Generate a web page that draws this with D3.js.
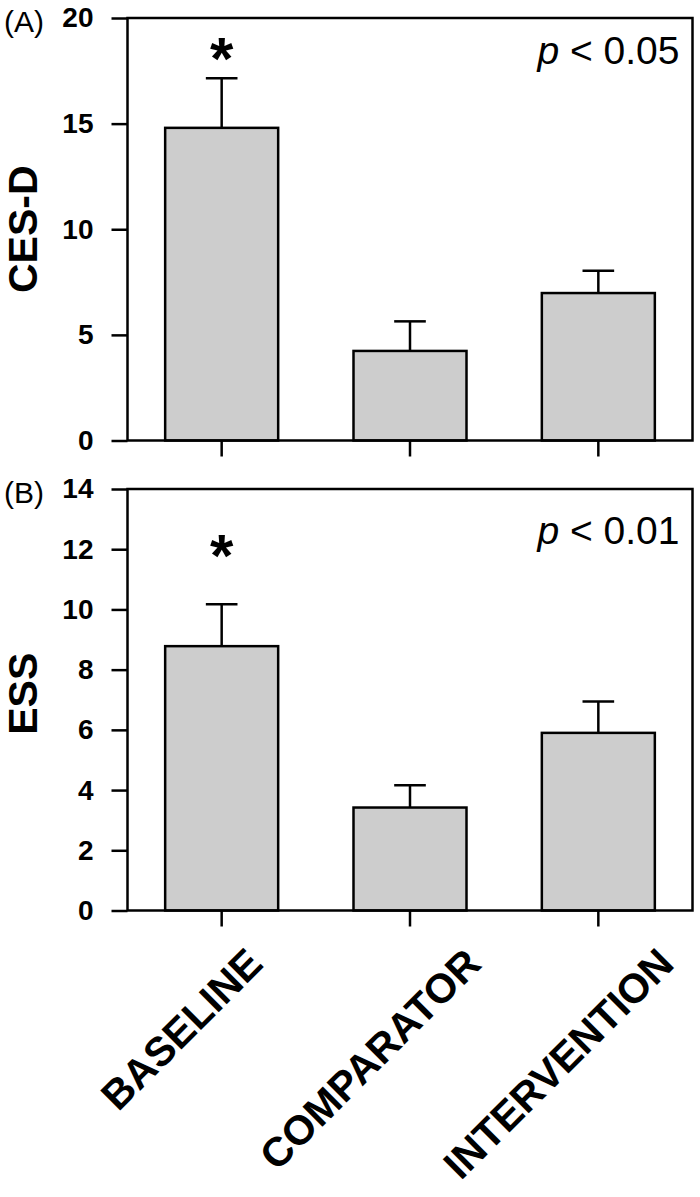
<!DOCTYPE html>
<html>
<head>
<meta charset="utf-8">
<script src="https://cdn.jsdelivr.net/npm/d3@7"></script>
<style>
  html, body { margin: 0; padding: 0; background: #fff; }
  svg { display: block; }
  text { font-family: "Liberation Sans", Arial, Helvetica, sans-serif; fill: #000; }
</style>
</head>
<body>
<svg id="chart" width="700" height="1197"></svg>
<script>
// ---- data ----
const categories = ["BASELINE", "COMPARATOR", "INTERVENTION"];
const cesdMeans = [14.8, 4.24, 6.98];
const cesdUpper = [17.15, 5.64, 8.03];   // mean + error
const essMeans = [8.78, 3.42, 5.9];
const essUpper = [10.17, 4.16, 6.94];    // mean + error
const cesdTicks = [0, 5, 10, 15, 20];
const essTicks = [0, 2, 4, 6, 8, 10, 12, 14];
const panelLetters = ["(A)", "(B)"];
const yTitles = ["CES-D", "ESS"];
const pTexts = ["0.05", "0.01"];
const starIndex = 0;

const svg = d3.select("#chart");
const left = 127.5, right = 692.5;
const x = d3.scaleBand().domain(categories).range([left, right]).paddingInner(0.4).paddingOuter(0.2);

const panels = [
  { means: cesdMeans, upper: cesdUpper, ticks: cesdTicks, domain: [0, 20], range: [440.5, 18],
    letter: panelLetters[0], title: yTitles[0], p: pTexts[0], pVal: 17.82, starVal: 17.1 },
  { means: essMeans, upper: essUpper, ticks: essTicks, domain: [0, 14], range: [910.5, 489],
    letter: panelLetters[1], title: yTitles[1], p: pTexts[1], pVal: 12.17, starVal: 11.1 }
];

const SW = 2.5;
const tickLen = 16;

panels.forEach((P, pi) => {
  const y = d3.scaleLinear().domain(P.domain).range(P.range);
  const g = svg.append("g");
  const top = y(P.domain[1]), bottom = y(0);

  // bars
  g.selectAll("rect.bar").data(categories).join("rect")
    .attr("class", "bar")
    .attr("x", d => x(d))
    .attr("width", x.bandwidth())
    .attr("y", (d, i) => y(P.means[i]))
    .attr("height", (d, i) => bottom - y(P.means[i]))
    .attr("fill", "#cdcdcd")
    .attr("stroke", "#000")
    .attr("stroke-width", SW);

  // error bars (upper only)
  const capW = x.bandwidth() * 0.28;
  categories.forEach((c, i) => {
    const cx = x(c) + x.bandwidth() / 2;
    g.append("line").attr("x1", cx).attr("x2", cx)
      .attr("y1", y(P.means[i])).attr("y2", y(P.upper[i]))
      .attr("stroke", "#000").attr("stroke-width", SW);
    g.append("line").attr("x1", cx - capW / 2).attr("x2", cx + capW / 2)
      .attr("y1", y(P.upper[i])).attr("y2", y(P.upper[i]))
      .attr("stroke", "#000").attr("stroke-width", SW);
  });

  // frame
  g.append("rect").attr("x", left).attr("y", top)
    .attr("width", right - left).attr("height", bottom - top)
    .attr("fill", "none").attr("stroke", "#000").attr("stroke-width", SW);

  // y axis
  const yAxis = d3.axisLeft(y).tickValues(P.ticks).tickSize(tickLen).tickPadding(18).tickFormat(d3.format("d"));
  const ya = g.append("g").attr("transform", `translate(${left},0)`).call(yAxis);
  ya.select(".domain").remove();
  ya.selectAll(".tick line").attr("stroke", "#000").attr("stroke-width", SW);
  ya.selectAll(".tick text").style("font-size", "28px").attr("font-weight", "bold")
    .attr("font-family", "'Liberation Sans', Arial, sans-serif").attr("fill", "#000");

  // x axis ticks
  const xAxis = d3.axisBottom(x).tickSize(tickLen).tickFormat("");
  const xa = g.append("g").attr("transform", `translate(0,${bottom})`).call(xAxis);
  xa.select(".domain").remove();
  xa.selectAll(".tick line").attr("stroke", "#000").attr("stroke-width", SW);

  // y title
  g.append("text")
    .attr("transform", `translate(37,${(top + bottom) / 2 - (pi === 1 ? 6 : 0)}) rotate(-90)`)
    .attr("text-anchor", "middle")
    .style("font-size", "41px").attr("font-weight", "bold")
    .text(P.title);

  // panel letter
  g.append("text").attr("x", 4).attr("y", top + 14)
    .style("font-size", "30px").text(P.letter);

  // p value annotation
  const pt = g.append("text").attr("x", right - 13).attr("y", y(P.pVal))
    .attr("text-anchor", "end").style("font-size", "39px");
  pt.append("tspan").attr("font-style", "italic").text("p");
  pt.append("tspan").text(" < " + P.p);

  // significance star
  g.append("text")
    .attr("x", x(categories[starIndex]) + x.bandwidth() / 2)
    .attr("y", y(P.starVal))
    .attr("text-anchor", "middle").style("font-size", "60px").attr("font-weight", "bold")
    .text("*");
});

// x category labels (rotated, below the lower panel)
const labelEndY = 966;
const labelG = svg.append("g");
categories.forEach(c => {
  const t = labelG.append("text")
    .style("font-size", "41px").attr("font-weight", "bold")
    .attr("text-anchor", "middle")
    .text(c);
  const L = t.node().getComputedTextLength();
  const h = L / 2 * Math.SQRT1_2;
  const cx = x(c) + x.bandwidth() / 2 - 30;
  t.attr("transform", `translate(${cx},${labelEndY + h}) rotate(-45)`);
});
</script>
</body>
</html>
